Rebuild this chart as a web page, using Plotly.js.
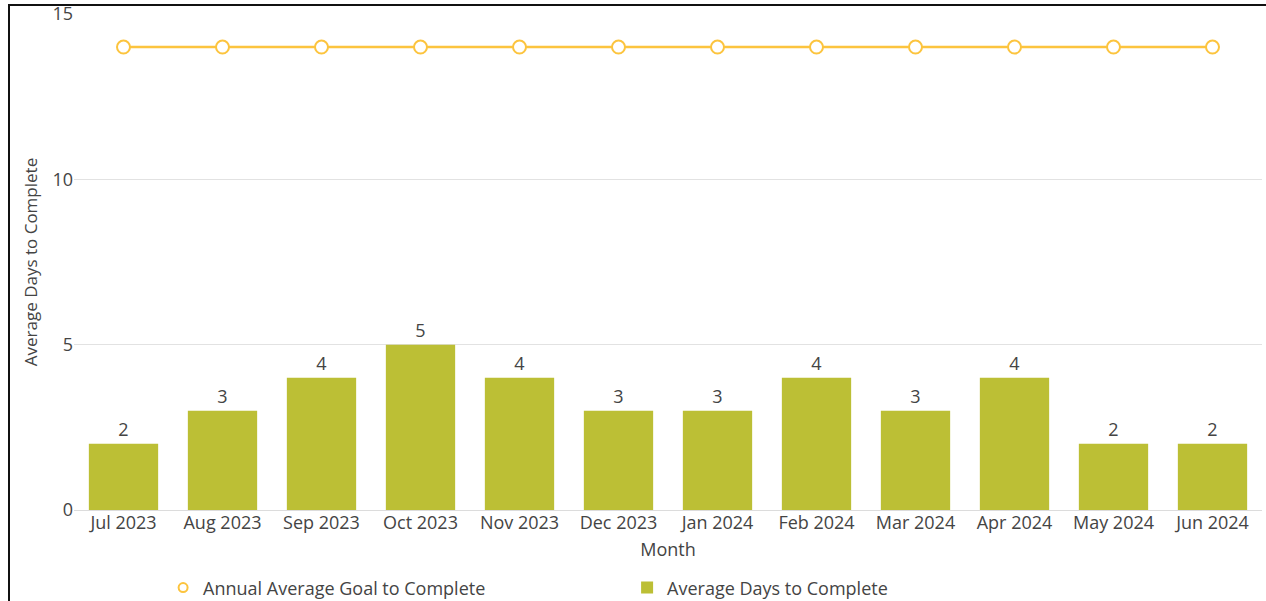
<!DOCTYPE html>
<html><head><meta charset="utf-8">
<script src="https://cdn.plot.ly/plotly-3.0.1.min.js"></script>
<style>
html,body{margin:0;padding:0;background:#fff;overflow:hidden;width:1266px;height:601px;}
#frame{position:absolute;left:8px;top:4px;width:1300px;height:700px;border-top:2px solid #111;border-left:2px solid #111;}
#chart{position:absolute;left:0;top:0;width:1266px;height:630px;}
</style></head>
<body>
<div id="frame"></div>
<div id="chart"></div>
<script>
const months = ["Jul 2023","Aug 2023","Sep 2023","Oct 2023","Nov 2023","Dec 2023","Jan 2024","Feb 2024","Mar 2024","Apr 2024","May 2024","Jun 2024"];
const avgDays = [2,3,4,5,4,3,3,4,3,4,2,2];
const goal = [14,14,14,14,14,14,14,14,14,14,14,14];
const goalName = "Annual Average Goal to Complete";
const barName = "Average Days to Complete";

const gold = "#fcc43e";
const font = {family:"Open Sans, sans-serif", size:18, color:"#444"};
const yTitleFont = {family:"Open Sans, sans-serif", size:17, color:"#444"};
const traces = [
  {type:"scatter", mode:"lines+markers", name:goalName, x:months, y:goal, showlegend:false,
   line:{color:gold, width:2.5},
   marker:{symbol:"circle", size:13, color:"#fff", line:{color:gold, width:2}}},
  {type:"scatter", mode:"markers", name:goalName, x:[null], y:[null], showlegend:true,
   marker:{symbol:"circle", size:9, color:"#fff", line:{color:gold, width:2}}},
  {type:"bar", name:barName, x:months, y:avgDays,
   marker:{color:"#bcbf35"}, text:avgDays.map(String), textposition:"outside",
   textfont:font, cliponaxis:false}
];
const layout = {
  width:1266, height:630,
  margin:{l:74, r:4, t:14, b:120},
  paper_bgcolor:"rgba(0,0,0,0)", plot_bgcolor:"rgba(0,0,0,0)",
  font:font, bargap:0.3, showlegend:true,
  xaxis:{title:{text:"Month", font:font, standoff:10}, tickfont:font, showgrid:false, ticks:"",
         range:[-0.5, 11.5], automargin:false},
  yaxis:{title:{text:"Average Days to Complete", font:yTitleFont, standoff:10}, tickfont:font, range:[0,15], dtick:5,
         gridcolor:"#e2e2e2", zeroline:true, zerolinecolor:"#dcdcdc", ticks:"", automargin:false},
  legend:{orientation:"h", x:0.075, xanchor:"left", y:-0.157, yanchor:"middle", font:font, entrywidth:419, traceorder:"normal"}
};
Plotly.newPlot("chart", traces, layout, {displayModeBar:false, staticPlot:true});
</script>
</body></html>
